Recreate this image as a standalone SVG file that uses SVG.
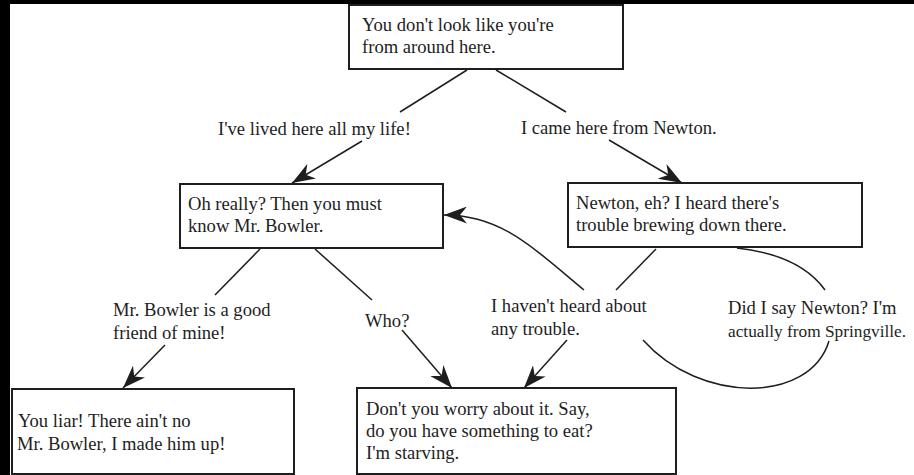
<svg xmlns="http://www.w3.org/2000/svg" width="914" height="475" viewBox="0 0 914 475">
<style>
text{font-family:"Liberation Serif","Times New Roman",serif;font-size:18.6px;fill:#1e1e1e}
.box{fill:#fff;stroke:#1e1e1e;stroke-width:2}
.edge{fill:none;stroke:#1e1e1e;stroke-width:1.5}
</style>
<defs>
<marker id="arr" markerUnits="userSpaceOnUse" viewBox="0 0 24 17" markerWidth="24" markerHeight="17" refX="23" refY="8.5" orient="auto">
<path d="M0,0 L23,8.5 L0,17 L7,8.5 z" fill="#1e1e1e"/>
</marker>
</defs>
<rect x="0" y="0" width="914" height="475" fill="#fff"/>
<rect x="0" y="0" width="914" height="4" fill="#000"/>
<rect x="0" y="0" width="10" height="475" fill="#000"/>
<g id="connectors">
<path class="edge" d="M467,70 L400,112"/>
<path class="edge" d="M362,141 L292,183" marker-end="url(#arr)"/>
<path class="edge" d="M496,70 L566,112"/>
<path class="edge" d="M609,140 L682,183" marker-end="url(#arr)"/>
<path class="edge" d="M260,249 L215,295"/>
<path class="edge" d="M165,345 L123,388" marker-end="url(#arr)"/>
<path class="edge" d="M315,249 L372,300"/>
<path class="edge" d="M402,330 L452,388" marker-end="url(#arr)"/>
<path class="edge" d="M656,249 L616,290"/>
<path class="edge" d="M567,340 L524,388" marker-end="url(#arr)"/>
<path class="edge" d="M737,248 Q800,255 825,290"/>
<path class="edge" d="M829,341 C810,404 700,404 643,340"/>
<path class="edge" d="M584,290 C530,245 500,215 444,215" marker-end="url(#arr)"/>
</g>
<g id="n1">
<rect class="box" x="349" y="5" width="274" height="64"/>
<text x="362" y="31">You don't look like you're</text>
<text x="362" y="53">from around here.</text>
</g>
<g id="n2">
<rect class="box" x="180" y="184" width="263" height="64"/>
<text x="188" y="210">Oh really? Then you must</text>
<text x="188" y="232">know Mr. Bowler.</text>
</g>
<g id="n3">
<rect class="box" x="568" y="183" width="294" height="64"/>
<text x="576" y="209">Newton, eh? I heard there's</text>
<text x="576" y="231">trouble brewing down there.</text>
</g>
<g id="n4">
<rect class="box" x="12" y="389" width="282" height="85"/>
<text x="18" y="427">You liar! There ain't no</text>
<text x="17" y="450">Mr. Bowler, I made him up!</text>
</g>
<g id="n5">
<rect class="box" x="357" y="388" width="319" height="86"/>
<text x="366" y="415">Don't you worry about it. Say,</text>
<text x="366" y="437">do you have something to eat?</text>
<text x="366" y="459">I'm starving.</text>
</g>
<g id="labels">
<text x="218" y="135">I've lived here all my life!</text>
<text x="521" y="134">I came here from Newton.</text>
<text x="113" y="316">Mr. Bowler is a good</text>
<text x="113" y="339">friend of mine!</text>
<text x="365" y="327">Who?</text>
<text x="491" y="312">I haven't heard about</text>
<text x="491" y="335">any trouble.</text>
<text x="728" y="314">Did I say Newton? I'm</text>
<text x="728" y="337" style="font-size:17.3px">actually from Springville.</text>
</g>
</svg>
